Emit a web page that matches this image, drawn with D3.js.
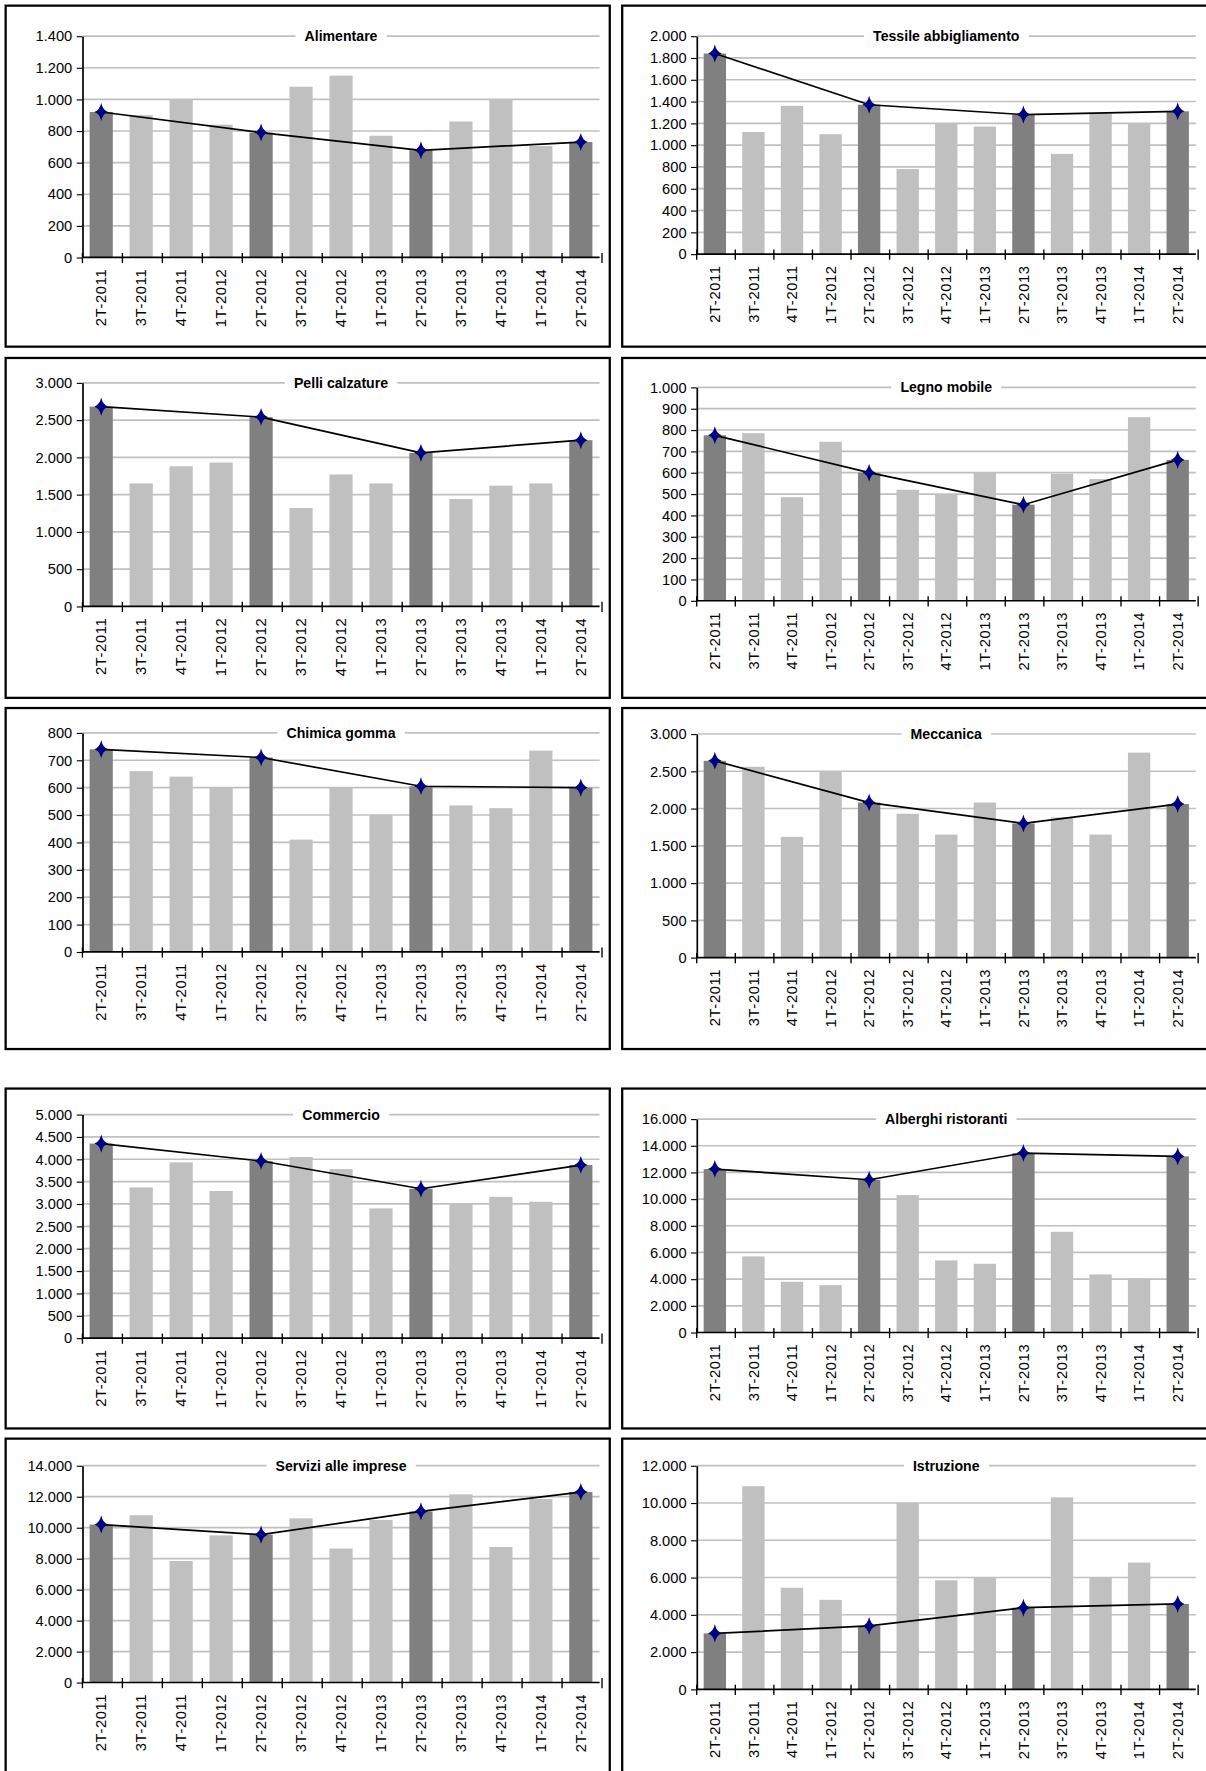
<!DOCTYPE html>
<html><head><meta charset="utf-8">
<script src="https://cdn.jsdelivr.net/npm/d3@7"></script>
<style>body{margin:0;background:#fff}svg{display:block;font-family:"Liberation Sans",Arial,sans-serif}</style>
</head><body>
<svg id="c" width="1206" height="1771"></svg>
<script>
const quarters = ["2T-2011","3T-2011","4T-2011","1T-2012","2T-2012","3T-2012","4T-2012","1T-2013","2T-2013","3T-2013","4T-2013","1T-2014","2T-2014"];
const titles = ["Alimentare","Tessile abbigliamento","Pelli calzature","Legno mobile","Chimica gomma","Meccanica","Commercio","Alberghi ristoranti","Servizi alle imprese","Istruzione"];
const alimentare = [920,900,1000,840,790,1080,1150,770,678,860,1000,705,730];
const tessile = [1840,1120,1360,1100,1370,780,1200,1170,1280,920,1290,1200,1310];
const pelli = [2680,1650,1880,1930,2540,1320,1770,1650,2060,1440,1620,1650,2230];
const legno = [775,785,485,745,600,520,500,600,450,595,570,860,660];
const chimica = [740,660,640,600,710,410,600,500,605,535,525,735,600];
const meccanica = [2640,2560,1620,2490,2080,1930,1650,2080,1800,1880,1650,2750,2060];
const commercio = [4350,3370,3930,3290,3960,4050,3780,2900,3340,3000,3160,3050,3870];
const alberghi = [12250,5700,3800,3550,11450,10300,5400,5150,13450,7550,4350,4050,13200];
const servizi = [10200,10800,7850,9500,9550,10600,8650,10500,11050,12150,8750,11850,12300];
const istruzione = [3000,10900,5450,4800,3400,10000,5850,6000,4380,10300,6000,6800,4580];
const series = [alimentare,tessile,pelli,legno,chimica,meccanica,commercio,alberghi,servizi,istruzione];
const yMax = [1400,2000,3000,1000,800,3000,5000,16000,14000,12000];
const yStep = [200,200,500,100,100,500,500,2000,2000,2000];

// layout in reference-display units, scaled up to the window
const S = 1206/1068;
const cols = [{bx:5,bw:535,x0:73,x1:531},{bx:551,bw:530,x0:617,x1:1059}];
const rows = [{by:5,bh:302},{by:317,bh:301},{by:627,bh:302},{by:964,bh:301},{by:1274,bh:310}];
const plotY = [[32,228],[32,225],[339,537],[343,532],[649,843],[650,848],[987,1185],[991,1180],[1298,1490],[1298,1496]];

const fmt = d3.formatLocale({decimal:",",thousands:".",grouping:[3],currency:["",""]}).format(",d");
const svg = d3.select("#c");
const root = svg.append("g").attr("transform","scale(" + S + ")");

series.forEach(function(vals, i) {
  const c = cols[i % 2], r = rows[Math.floor(i / 2)];
  const g = root.append("g");
  g.append("rect").attr("x", c.bx).attr("y", r.by).attr("width", c.bw).attr("height", r.bh)
    .attr("fill", "#fff").attr("stroke", "#000").attr("stroke-width", 2);
  const yt = plotY[i][0], yb = plotY[i][1];
  const x = d3.scaleBand().domain(quarters).range([c.x0, c.x1]).paddingInner(0.42).paddingOuter(0.18);
  const y = d3.scaleLinear().domain([0, yMax[i]]).range([yb, yt]);
  const ticks = d3.range(0, yMax[i] + 1, yStep[i]);
  g.selectAll("line.grid").data(ticks.slice(1)).join("line").attr("class", "grid")
    .attr("x1", c.x0).attr("x2", c.x1).attr("y1", function(d) { return y(d); }).attr("y2", function(d) { return y(d); })
    .attr("stroke", "#c0c0c0").attr("stroke-width", 1.5);
  // title over the top gridline, with a white backing
  const tbg = g.append("rect").attr("fill", "#fff");
  const t = g.append("text").attr("x", (c.x0 + c.x1) / 2).attr("y", yt + 4.5).attr("text-anchor", "middle")
    .attr("font-size", 12.5).attr("font-weight", "bold").text(titles[i]);
  const bb = t.node().getBBox();
  tbg.attr("x", bb.x - 8).attr("y", bb.y).attr("width", bb.width + 16).attr("height", bb.height);

  g.selectAll("rect.bar").data(vals).join("rect").attr("class", "bar")
    .attr("x", function(d, k) { return x(quarters[k]); }).attr("width", x.bandwidth())
    .attr("y", function(d) { return y(d); }).attr("height", function(d) { return yb - y(d); })
    .attr("fill", function(d, k) { return k % 4 === 0 ? "#808080" : "#c0c0c0"; });
  const ya = g.append("g").attr("transform", "translate(" + c.x0 + ",0)")
    .call(d3.axisLeft(y).tickValues(ticks).tickFormat(fmt).tickSize(5).tickSizeOuter(0));
  ya.select(".domain").attr("stroke-width", 1.5);
  ya.selectAll("text").attr("font-size", 13).attr("fill", "#000").attr("dx", -1);
  const xa = g.append("g").attr("transform", "translate(0," + yb + ")");
  xa.append("line").attr("x1", c.x0).attr("x2", c.x1).attr("stroke", "#000").attr("stroke-width", 1.5);
  const step = x.step();
  xa.selectAll("line.tk").data(d3.range(quarters.length + 1)).join("line").attr("class", "tk")
    .attr("x1", function(k) { return c.x0 + k * step; }).attr("x2", function(k) { return c.x0 + k * step; })
    .attr("y1", -4).attr("y2", 5).attr("stroke", "#000").attr("stroke-width", 1.2);
  xa.selectAll("text.lb").data(quarters).join("text").attr("class", "lb")
    .attr("transform", function(lbl) { return "translate(" + (x(lbl) + x.bandwidth() / 2 + 4.5) + ",10) rotate(-90)"; })
    .attr("text-anchor", "end").attr("font-size", 13).attr("letter-spacing", 0.6).text(function(lbl) { return lbl; });
  // line through the 2T values
  const pts = [];
  vals.forEach(function(v, k) { if (k % 4 === 0) pts.push({ key: quarters[k], v: v }); });
  const cx = function(d) { return x(d.key) + x.bandwidth() / 2; };
  g.append("path").datum(pts).attr("fill", "none").attr("stroke", "#000").attr("stroke-width", 1.5)
    .attr("d", d3.line().x(cx).y(function(d) { return y(d.v); }));
  g.selectAll("path.mk").data(pts).join("path").attr("class", "mk")
    .attr("transform", function(d) { return "translate(" + cx(d) + "," + y(d.v) + ")"; })
    .attr("d", "M0,-8Q1.5,-1.5 6,0Q1.5,1.5 0,8Q-1.5,1.5 -6,0Q-1.5,-1.5 0,-8Z").attr("fill", "#000080");
});
</script>
</body></html>
